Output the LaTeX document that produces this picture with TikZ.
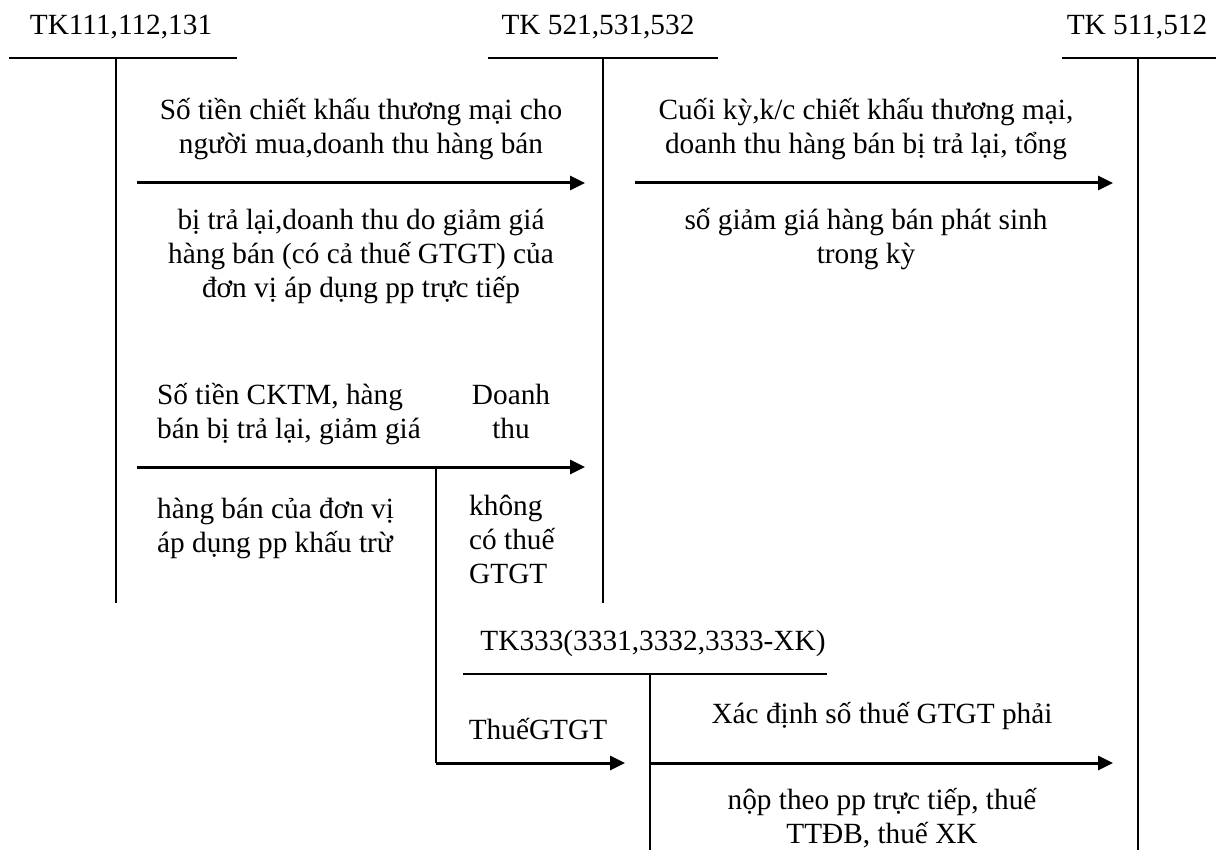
\documentclass[tikz,border=0pt]{standalone}
\usepackage{fontspec}
\setmainfont{Liberation Serif}
\usetikzlibrary{arrows.meta}

\begin{document}
\begin{tikzpicture}[x=1pt, y=-1pt, >={Triangle[length=15pt,width=14pt]},
  every node/.style={font=\fontsize{29.3}{34}\selectfont, inner sep=0pt},
  tline/.style={line width=1.5pt},
  flow/.style={->, line width=3pt}]
\useasboundingbox (0,0) rectangle (1216,850);

% T-accounts
\coordinate (L1) at (9,58);    \coordinate (R1) at (237,58);
\coordinate (T1) at (116,58);  \coordinate (B1) at (116,603);
\coordinate (L2) at (488,58);  \coordinate (R2) at (718,58);
\coordinate (T2) at (603,58);  \coordinate (B2) at (603,603);
\coordinate (L3) at (1062,58); \coordinate (R3) at (1216,58);
\coordinate (T3) at (1138,58); \coordinate (B3) at (1138,850);
\coordinate (L4) at (463,674); \coordinate (R4) at (827,674);
\coordinate (T4) at (650,674); \coordinate (B4) at (650,850);
\draw[tline] (L1) -- (R1) (T1) -- (B1);
\draw[tline] (L2) -- (R2) (T2) -- (B2);
\draw[tline] (L3) -- (R3) (T3) -- (B3);
\draw[tline] (L4) -- (R4) (T4) -- (B4);

\node[anchor=base] (tk111) at (121,35) {TK111,112,131};
\node[anchor=base] (tk521) at (598,35) {TK 521,531,532};
\node[anchor=base] (tk511) at (1137,35) {TK 511,512};
\node[anchor=base] (tk333) at (653,650) {TK333(3331,3332,3333-XK)};

% flows
\coordinate (a1) at (137,183); \coordinate (b1) at (585,183);
\coordinate (a2) at (635,183); \coordinate (b2) at (1113,183);
\coordinate (a3) at (137,467); \coordinate (b3) at (585,467);
\coordinate (k3) at (436,467); \coordinate (c3) at (436,763);
\coordinate (d3) at (625,763);
\coordinate (a4) at (650,763); \coordinate (b4) at (1113,763);
\draw[flow] (a1) -- (b1);
\draw[flow] (a2) -- (b2);
\draw[flow] (a3) -- (b3);
\draw[tline] (k3) -- (c3);
\draw[flow] (c3) -- (d3);
\draw[flow] (a4) -- (b4);

% texts (base = last line)
\node[anchor=base, align=center] (ck1) at (361,154)
  {Số tiền chiết khấu thương mại cho\\người mua,doanh thu hàng bán};
\node[anchor=base, align=center] (ck2) at (361,298)
  {bị trả lại,doanh thu do giảm giá\\hàng bán (có cả thuế GTGT) của\\đơn vị áp dụng pp trực tiếp};
\node[anchor=base, align=center] (kc1) at (866,154)
  {Cuối kỳ,k/c chiết khấu thương mại,\\doanh thu hàng bán bị trả lại, tổng};
\node[anchor=base, align=center] (kc2) at (866,264)
  {số giảm giá hàng bán phát sinh\\trong kỳ};
\node[anchor=base west, align=left] (kt1) at (157,438)
  {Số tiền CKTM, hàng\\bán bị trả lại, giảm giá};
\node[anchor=base, align=center] (dt1) at (511,438) {Doanh\\thu};
\node[anchor=base west, align=left] (kt2) at (157,552)
  {hàng bán của đơn vị\\áp dụng pp khấu trừ};
\node[anchor=base west, align=left] (dt2) at (469,583)
  {không\\có thuế\\GTGT};
\node[anchor=base] (vat) at (538,739) {ThuếGTGT};
\node[anchor=base] (np1) at (882,723) {Xác định số thuế GTGT phải};
\node[anchor=base, align=center] (np2) at (882,843)
  {nộp theo pp trực tiếp, thuế\\TTĐB, thuế XK};
\end{tikzpicture}
\end{document}
